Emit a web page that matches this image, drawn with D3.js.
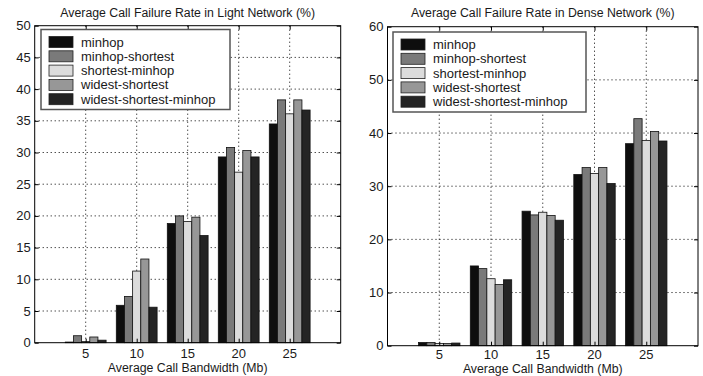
<!DOCTYPE html>
<html>
<head>
<meta charset="utf-8">
<script src="https://cdn.jsdelivr.net/npm/d3@7"></script>
<style>
  body { margin: 0; background: #fff; }
  text { font-family: "Liberation Sans", Arial, Helvetica, sans-serif; fill: #1a1a1a; }
</style>
</head>
<body>
<svg id="canvas" width="703" height="376"></svg>
<script>
// bandwidth categories (x axis)
let bandwidths = [5, 10, 15, 20, 25];
let algorithms = ["minhop", "minhop-shortest", "shortest-minhop", "widest-shortest", "widest-shortest-minhop"];
let fills = ["#0e0e0e", "#7a7a7a", "#dcdcdc", "#979797", "#242424"];

// failure rate (%) per algorithm, light network
let lightMinhop = [0.1, 5.9, 18.8, 29.3, 34.5];
let lightMinhopShortest = [1.1, 7.3, 20.0, 30.8, 38.3];
let lightShortestMinhop = [0.2, 11.3, 19.1, 26.9, 36.1];
let lightWidestShortest = [0.9, 13.2, 19.8, 30.3, 38.3];
let lightWSM = [0.4, 5.6, 16.9, 29.3, 36.7];

// failure rate (%) per algorithm, dense network
let denseMinhop = [0.6, 15.0, 25.3, 32.2, 38.0];
let denseMinhopShortest = [0.6, 14.5, 24.6, 33.5, 42.7];
let denseShortestMinhop = [0.4, 12.6, 25.1, 32.4, 38.6];
let denseWidestShortest = [0.4, 11.5, 24.5, 33.5, 40.3];
let denseWSM = [0.5, 12.4, 23.6, 30.5, 38.5];

let lightYTicks = [0, 5, 10, 15, 20, 25, 30, 35, 40, 45, 50];
let denseYTicks = [0, 10, 20, 30, 40, 50, 60];

let canvas = d3.select('#canvas');

let drawChart = (opt) => {
    let x = d3.scaleLinear().domain([0, 30]).range([opt.left, opt.right]);
    let y = d3.scaleLinear().domain([0, opt.ymax]).range([opt.bottom, opt.top]);
    let g = canvas.append('g');

    // dotted grid
    g.selectAll('.vgrid').data(bandwidths).enter().append('line')
        .attr('x1', d => x(d)).attr('x2', d => x(d))
        .attr('y1', opt.top).attr('y2', opt.bottom)
        .attr('stroke', '#000').attr('stroke-width', 1).attr('stroke-dasharray', '1,3');
    g.selectAll('.hgrid').data(opt.yticks.slice(1, -1)).enter().append('line')
        .attr('x1', opt.left).attr('x2', opt.right)
        .attr('y1', d => y(d)).attr('y2', d => y(d))
        .attr('stroke', '#000').attr('stroke-width', 1).attr('stroke-dasharray', '1,3');

    // bars, 5 per group, group width 4 units
    opt.series.forEach((vals, i) => {
        g.selectAll('.bar' + i).data(vals).enter().append('rect')
            .attr('x', (d, j) => x(bandwidths[j] - 2 + 0.8 * i))
            .attr('width', x(0.8) - x(0))
            .attr('y', d => y(d))
            .attr('height', d => y(0) - y(d))
            .attr('fill', fills[i])
            .attr('stroke', '#111').attr('stroke-width', 0.8);
    });

    // axes box
    g.append('rect')
        .attr('x', opt.left).attr('y', opt.top)
        .attr('width', opt.right - opt.left).attr('height', opt.bottom - opt.top)
        .attr('fill', 'none').attr('stroke', '#000').attr('stroke-width', 1);

    // inward ticks
    let yAxis = d3.axisRight(y).tickValues(opt.yticks).tickSize(4).tickFormat('');
    g.append('g').attr('transform', `translate(${opt.left},0)`).call(yAxis).select('.domain').remove();
    g.append('g').attr('transform', `translate(${opt.right},0)`).call(d3.axisLeft(y).tickValues(opt.yticks).tickSize(4).tickFormat('')).select('.domain').remove();
    g.append('g').attr('transform', `translate(0,${opt.bottom})`).call(d3.axisTop(x).tickValues(bandwidths).tickSize(4).tickFormat('')).select('.domain').remove();
    g.append('g').attr('transform', `translate(0,${opt.top})`).call(d3.axisBottom(x).tickValues(bandwidths).tickSize(4).tickFormat('')).select('.domain').remove();

    // tick labels
    g.selectAll('.ylab').data(opt.yticks).enter().append('text')
        .attr('x', opt.left - 4).attr('y', d => y(d) + 4.5)
        .attr('text-anchor', 'end').attr('font-size', 13)
        .text(d => d);
    g.selectAll('.xlab').data(bandwidths).enter().append('text')
        .attr('x', d => x(d)).attr('y', opt.xTickY)
        .attr('text-anchor', 'middle').attr('font-size', 13)
        .text(d => d);

    g.append('text')
        .attr('x', (opt.left + opt.right) / 2).attr('y', opt.xLabelY)
        .attr('text-anchor', 'middle').attr('font-size', 12.3)
        .text('Average Call Bandwidth (Mb)');
    g.append('text')
        .attr('x', (opt.left + opt.right) / 2).attr('y', 17)
        .attr('text-anchor', 'middle').attr('font-size', 12.3)
        .text(opt.title);

    // legend
    let lg = g.append('g').attr('transform', `translate(${opt.legX},${opt.legY})`);
    lg.append('rect').attr('width', opt.legW).attr('height', 80)
        .attr('fill', '#fff').attr('stroke', '#555').attr('stroke-width', 1.5);
    algorithms.forEach((name, i) => {
        lg.append('rect').attr('x', 8).attr('y', 7 + i * 14.3)
            .attr('width', 24).attr('height', 11)
            .attr('fill', fills[i]).attr('stroke', '#222').attr('stroke-width', 0.8);
        lg.append('text').attr('x', 40).attr('y', 17 + i * 14.3)
            .attr('font-size', 13).text(name);
    });
};

drawChart({
    left: 34.7, right: 340.7, top: 25.7, bottom: 342.7, ymax: 50,
    yticks: lightYTicks,
    series: [lightMinhop, lightMinhopShortest, lightShortestMinhop, lightWidestShortest, lightWSM],
    title: 'Average Call Failure Rate in Light Network (%)',
    xTickY: 357.5, xLabelY: 371.5,
    legX: 41, legY: 29.5, legW: 189
});

drawChart({
    left: 387.5, right: 698, top: 26.7, bottom: 345.7, ymax: 60,
    yticks: denseYTicks,
    series: [denseMinhop, denseMinhopShortest, denseShortestMinhop, denseWidestShortest, denseWSM],
    title: 'Average Call Failure Rate in Dense Network (%)',
    xTickY: 359, xLabelY: 372.5,
    legX: 393, legY: 32, legW: 193
});
</script>
</body>
</html>
